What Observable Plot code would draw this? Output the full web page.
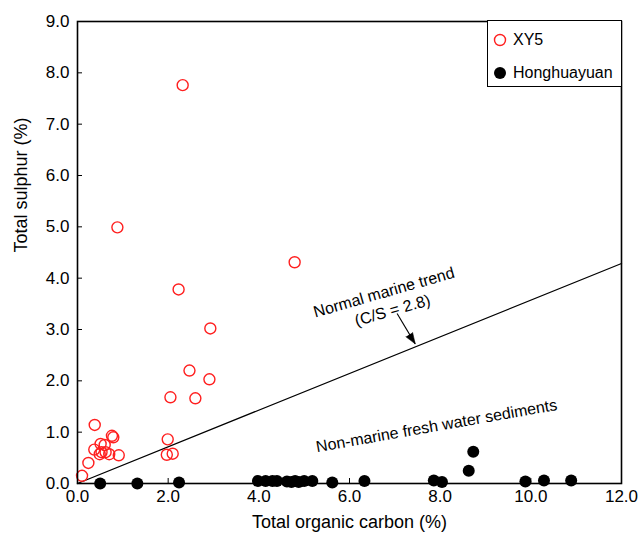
<!DOCTYPE html>
<html><head><meta charset="utf-8">
<script src="https://cdn.jsdelivr.net/npm/d3@7"></script>
<script src="https://cdn.jsdelivr.net/npm/@observablehq/plot@0.6"></script>
<style>
body{margin:0;background:#fff;font-family:"Liberation Sans",Arial,sans-serif;}
#wrap{position:relative;width:641px;height:538px;}
#legend{position:absolute;left:487px;top:20px;width:135px;height:67px;border:1px solid #000;box-sizing:border-box;background:#fff;font-size:16px;color:#000;}
#legend .row{position:absolute;left:0;height:20px;line-height:20px;display:flex;align-items:center;}
#legend svg{display:block;margin-left:5px;margin-right:6px;}
</style></head><body><div id="wrap"></div>
<script>
// XY5 samples
const xy5TOC = [2.32, 0.88, 4.79, 2.23, 2.93, 2.47, 2.91, 2.05, 2.60, 1.99, 1.97, 2.10, 0.38, 0.76, 0.79, 0.51, 0.60, 0.37, 0.53, 0.62, 0.70, 0.49, 0.91, 0.24, 0.10];
const xy5TS  = [7.76, 4.99, 4.31, 3.78, 3.02, 2.20, 2.03, 1.68, 1.66, 0.86, 0.56, 0.58, 1.14, 0.93, 0.90, 0.77, 0.75, 0.66, 0.61, 0.61, 0.57, 0.57, 0.55, 0.40, 0.15];
// Honghuayuan samples
const hhyTOC = [0.50, 1.32, 2.24, 3.98, 4.15, 4.30, 4.40, 4.62, 4.72, 4.80, 4.88, 5.00, 5.18, 5.62, 6.33, 7.86, 8.04, 8.63, 8.73, 9.88, 10.29, 10.89];
const hhyTS  = [0.00, 0.00, 0.02, 0.05, 0.05, 0.05, 0.05, 0.04, 0.03, 0.05, 0.03, 0.05, 0.05, 0.02, 0.05, 0.06, 0.03, 0.25, 0.62, 0.04, 0.06, 0.06];
const seriesNames = ["XY5", "Honghuayuan"];
const xTicks = [0, 2, 4, 6, 8, 10, 12];
const yTicks = [0, 1, 2, 3, 4, 5, 6, 7, 8, 9];
const xTitle = "Total organic carbon (%)";
const yTitle = "Total sulphur (%)";
const csRatio = 2.8;          // normal marine C/S
const trendTOC = [0, 12];
const marineLabel = ["Normal marine trend", "(C/S = 2.8)"];
const marineLabelX = [6.76, 6.95];
const marineLabelY = [3.72, 3.37];
const freshLabel = ["Non-marine fresh water sediments"];
const freshLabelX = [7.92];
const freshLabelY = [1.12];
const arrowFrom = [7.05, 3.31];
const arrowTo = [7.45, 2.72];

const xy5 = xy5TOC.map((x, i) => ({x, y: xy5TS[i]}));
const hhy = hhyTOC.map((x, i) => ({x, y: hhyTS[i]}));
const trend = trendTOC.map(x => ({x, y: x / csRatio}));
const mLab = marineLabel.map((t, i) => ({t, x: marineLabelX[i], y: marineLabelY[i]}));
const fLab = freshLabel.map((t, i) => ({t, x: freshLabelX[i], y: freshLabelY[i]}));
const arrow = [{x1: arrowFrom[0], y1: arrowFrom[1], x2: arrowTo[0], y2: arrowTo[1]}];

const red = "#ff1f1f";
const chart = Plot.plot({
  width: 641, height: 538,
  marginLeft: 77, marginRight: 20, marginTop: 21, marginBottom: 55,
  x: {domain: [0, 12]},
  y: {domain: [0, 9]},
  style: {fontFamily: "'Liberation Sans', Arial, sans-serif", fontSize: "17px", color: "#000", background: "#fff", overflow: "visible"},
  marks: [
    Plot.line(trend, {x: "x", y: "y", stroke: "#000", strokeWidth: 1.3}),
    Plot.dot(hhy, {x: "x", y: "y", r: 6, fill: "#000", stroke: "none"}),
    Plot.dot(xy5, {x: "x", y: "y", r: 5.5, stroke: red, strokeWidth: 1.4, fill: "none"}),
    Plot.frame({stroke: "#000", strokeWidth: 1.6}),
    Plot.axisX({ticks: xTicks, tickSize: -5, tickPadding: 11, tickFormat: d => d.toFixed(1), label: null, fontSize: 17}),
    Plot.axisY({ticks: yTicks, tickSize: -5, tickPadding: 13, tickFormat: d => d.toFixed(1), label: null, fontSize: 17}),
    Plot.text([xTitle], {frameAnchor: "bottom", dy: 44, fontSize: 18, text: d => d}),
    Plot.text([yTitle], {frameAnchor: "left", dx: -56, rotate: -90, fontSize: 18, text: d => d}),
    Plot.text(mLab, {x: "x", y: "y", text: "t", rotate: -16, fontSize: 16}),
    Plot.text(fLab, {x: "x", y: "y", text: "t", rotate: -10, fontSize: 16}),
    Plot.link(arrow, {x1: "x1", y1: "y1", x2: "x2", y2: "y2", stroke: "#000", strokeWidth: 1.1}),
    Plot.vector(arrow, {x: "x2", y: "y2", length: 11, r: 4, rotate: 147, anchor: "end", shape: "spike", fill: "#000", stroke: "#000", strokeWidth: 0.5})
  ]
});
const wrap = document.getElementById("wrap");
wrap.appendChild(chart);

const legend = document.createElement("div");
legend.id = "legend";
const syms = [
  `<svg width="14" height="14"><circle cx="7" cy="7" r="5.5" fill="none" stroke="${red}" stroke-width="1.4"/></svg>`,
  `<svg width="14" height="14"><circle cx="7" cy="7" r="6" fill="#000"/></svg>`
];
const rowTops = [9, 42];
seriesNames.forEach((name, i) => {
  const row = document.createElement("div");
  row.className = "row";
  row.style.top = rowTops[i] + "px";
  row.innerHTML = syms[i] + `<span>${name}</span>`;
  legend.appendChild(row);
});
wrap.appendChild(legend);
</script>
</body></html>
